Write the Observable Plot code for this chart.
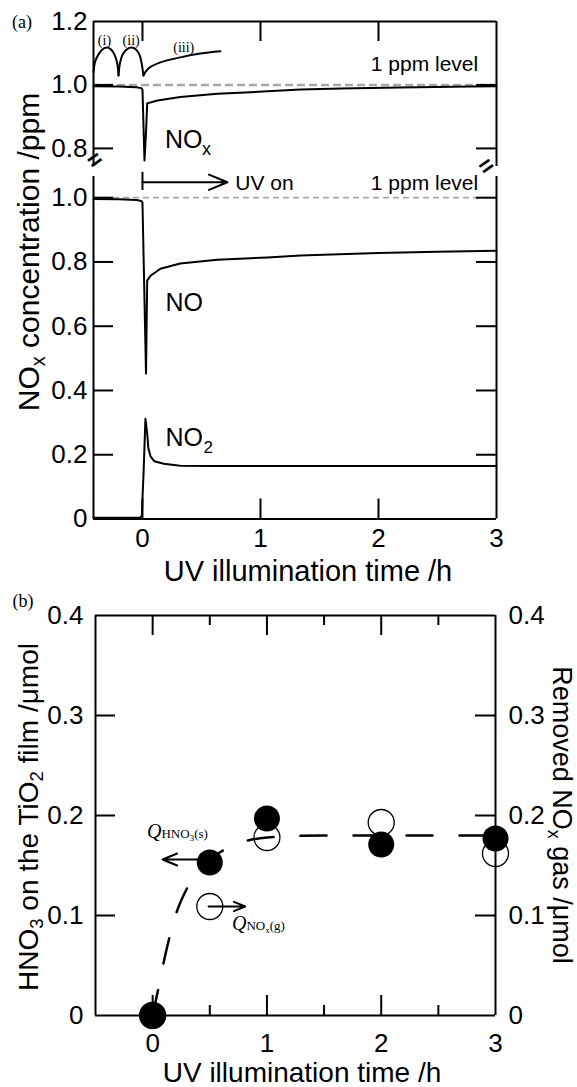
<!DOCTYPE html>
<html><head><meta charset="utf-8">
<script src="https://cdn.jsdelivr.net/npm/d3@7"></script>
<script src="https://cdn.jsdelivr.net/npm/@observablehq/plot@0.6"></script>
<style>
body{margin:0;background:#fff}
#fig{position:relative;width:577px;height:1087px;overflow:hidden;background:#fff;font-family:'Liberation Sans',Arial,sans-serif;color:#000}
.pl{position:absolute;left:0}
.t{position:absolute;white-space:nowrap;line-height:1}
.t sub{font-size:0.66em;vertical-align:-0.28em;line-height:0}
.serif{font-family:'Liberation Serif','Times New Roman',serif}
.q{position:absolute;white-space:nowrap;font-family:'Liberation Serif','Times New Roman',serif;font-size:20px;line-height:20px}
.q .s{font-size:13px;font-style:normal}
.q sub{font-size:9px;vertical-align:-3px;line-height:0}
</style></head><body>
<div id="fig">
  <div id="a1" class="pl" style="top:0"></div>
  <div id="a2" class="pl" style="top:170px"></div>
  <div id="b" class="pl" style="top:590px"></div>

  <div class="t serif" style="left:22px;top:22px;font-size:18px;transform:translate(-50%,-50%)">(a)</div>
  <div class="t serif" style="left:23px;top:601px;font-size:18px;transform:translate(-50%,-50%)">(b)</div>
  <div class="t" style="left:29px;top:252px;font-size:30px;transform:translate(-50%,-50%) rotate(-90deg)">NO<sub>x</sub> concentration /ppm</div>
  <div class="t" style="left:308px;top:571px;font-size:29px;transform:translate(-50%,-50%)">UV illumination time /h</div>
  <div class="t" style="left:29px;top:817px;font-size:28px;transform:translate(-50%,-50%) rotate(-90deg)">HNO<sub>3</sub> on the TiO<sub>2</sub> film /μmol</div>
  <div class="t" style="left:561px;top:815px;font-size:27px;transform:translate(-50%,-50%) rotate(90deg)">Removed NO<sub>x</sub> gas /μmol</div>
  <div class="t" style="left:302px;top:1073px;font-size:28px;transform:translate(-50%,-50%)">UV illumination time /h</div>
  <div class="q" style="left:147px;top:821px"><i>Q</i><span class="s">HNO<sub>3</sub>(s)</span></div>
  <div class="q" style="left:232px;top:913px"><i>Q</i><span class="s">NO<sub>x</sub>(g)</span></div>
</div>
<script>
// ---------- data: panel (a) ----------
const timeTicks = [0, 1, 2, 3];
const tNOx = [-0.415, -0.2, -0.05, -0.01, 0, 0.017, 0.03, 0.04, 0.127, 0.32, 0.635, 1.06, 1.34, 1.68, 2.18, 2.78, 3];
const NOx  = [0.996, 0.995, 0.993, 0.99, 0.985, 0.762, 0.85, 0.942, 0.951, 0.962, 0.972, 0.98, 0.986, 0.989, 0.992, 0.995, 0.996];
const tNO  = [-0.415, -0.2, -0.05, -0.01, 0, 0.03, 0.04, 0.068, 0.152, 0.32, 0.635, 1.06, 1.34, 2, 2.5, 3];
const NO   = [0.996, 0.995, 0.993, 0.99, 0.985, 0.453, 0.742, 0.757, 0.779, 0.795, 0.807, 0.814, 0.82, 0.828, 0.832, 0.835];
const tNO2 = [-0.415, -0.02, -0.005, 0, 0.01, 0.025, 0.04, 0.05, 0.068, 0.1, 0.18, 0.32, 0.6, 1, 2, 3];
const NO2  = [0.004, 0.004, 0.01, 0.064, 0.15, 0.312, 0.266, 0.22, 0.195, 0.18, 0.172, 0.166, 0.165, 0.165, 0.165, 0.165];
// schematic cycles (i), (ii), (iii)
const tCycle1 = [-0.415, -0.4, -0.37, -0.34, -0.305, -0.27, -0.24, -0.215, -0.203];
const vCycle1 = [1.04, 1.075, 1.098, 1.112, 1.118, 1.113, 1.098, 1.07, 1.03];
const tCycle2 = [-0.203, -0.19, -0.165, -0.13, -0.093, -0.055, -0.025, -0.008, 0.008];
const vCycle2 = [1.03, 1.07, 1.098, 1.113, 1.118, 1.112, 1.095, 1.07, 1.03];
const tCycle3 = [0.008, 0.05, 0.152, 0.322, 0.491, 0.66];
const vCycle3 = [1.03, 1.052, 1.071, 1.087, 1.099, 1.106];
const ticksUpper = [0.8, 1.0, 1.2];
const ticksLower = [0, 0.2, 0.4, 0.6, 0.8, 1.0];
const ppmLevel = 1.0;

// ---------- data: panel (b) ----------
const tB = [0, 0.5, 1, 2, 3];
const HNO3 = [0, 0.153, 0.197, 0.171, 0.177];
const removedNOx = [0, 0.109, 0.178, 0.193, 0.162];
const tFit = [0, 0.05, 0.1, 0.2, 0.3, 0.4, 0.5, 0.6, 0.75, 1, 1.5, 2, 2.5, 3];
const fitB = [0, 0.027, 0.055, 0.1, 0.127, 0.145, 0.156, 0.164, 0.172, 0.178, 0.18, 0.18, 0.18, 0.18];
const ticksB = [0, 0.1, 0.2, 0.3, 0.4];
const minorB = [0.5, 1.5, 2.5];

// ---------- helpers ----------
const rows = (t, v) => t.map((x, i) => ({x, y: v[i]}));
const FONT = "'Liberation Sans', Arial, sans-serif";
const SERIF = "'Liberation Serif', 'Times New Roman', serif";
const W = 577;
const xDomA = [-0.415, 3];
const mlA = 93, mrA = 81, innerWA = W - mlA - mrA;
const fmt = d => d === 0 ? "0" : d.toFixed(1);
const black = {stroke: "#000", strokeWidth: 2};
const style = {background: "none", overflow: "visible", fontFamily: FONT, color: "#000"};

// ---------- panel (a) upper ----------
const hA1 = 170, mtA1 = 21, mbA1 = 4, innerHA1 = hA1 - mtA1 - mbA1;
const a1 = Plot.plot({
  width: W, height: hA1, marginTop: mtA1, marginBottom: mbA1, marginLeft: mlA, marginRight: mrA,
  style,
  x: {domain: xDomA, axis: null, label: null},
  y: {domain: [0.743, 1.2], label: null},
  marks: [
    Plot.ruleY([ppmLevel], {stroke: "#a8a8a8", strokeWidth: 2.5, strokeDasharray: "8,4"}),
    Plot.ruleX(xDomA, black),
    Plot.ruleY([1.2], black),
    Plot.tickY([0.8, 1.0], {...black, insetRight: innerWA - 20}),
    Plot.tickY([0.8, 1.0], {...black, insetLeft: innerWA - 20}),
    Plot.tickX([0, 1, 2], {...black, insetBottom: innerHA1 - 20}),
    Plot.axisY(ticksUpper, {tickSize: 0, tickPadding: 6, fontSize: 26, tickFormat: fmt, label: null}),
    Plot.line(rows(tNOx, NOx), {x: "x", y: "y", ...black, strokeLinejoin: "round"}),
    Plot.line(rows(tCycle1, vCycle1), {x: "x", y: "y", ...black, curve: "catmull-rom"}),
    Plot.line(rows(tCycle2, vCycle2), {x: "x", y: "y", ...black, curve: "catmull-rom"}),
    Plot.line(rows(tCycle3, vCycle3), {x: "x", y: "y", ...black, curve: "catmull-rom"}),
    Plot.text(["(i)", "(ii)", "(iii)"], {x: [-0.322, -0.096, 0.35], y: [1.14, 1.14, 1.119], text: d => d, fontSize: 14, fontFamily: SERIF}),
    Plot.text(["1 ppm level"], {x: [2.845], y: [1.065], textAnchor: "end", fontSize: 21}),
    Plot.text(["NO"], {x: [0.19], y: [0.825], textAnchor: "start", fontSize: 25}),
    Plot.text(["x"], {x: [0.19], y: [0.825], textAnchor: "start", fontSize: 18, dx: 37, dy: 9}),
    Plot.text(["="], {frameAnchor: "bottom-left", dy: 4, rotate: -35, fontSize: 24, fontWeight: "bold"}),
    Plot.text(["="], {frameAnchor: "bottom-right", dy: 2, rotate: -35, fontSize: 24, fontWeight: "bold"})
  ]
});
document.getElementById("a1").append(a1);

// ---------- panel (a) lower ----------
const hA2 = 400, mtA2 = 6, mbA2 = 51.5, innerHA2 = hA2 - mtA2 - mbA2;
const a2 = Plot.plot({
  width: W, height: hA2, marginTop: mtA2, marginBottom: mbA2, marginLeft: mlA, marginRight: mrA,
  style,
  x: {domain: xDomA, label: null},
  y: {domain: [0, 1.066], label: null},
  marks: [
    Plot.ruleY([ppmLevel], {stroke: "#a8a8a8", strokeWidth: 1.8, strokeDasharray: "6,4"}),
    Plot.ruleX(xDomA, black),
    Plot.ruleY([0], black),
    Plot.tickY([0.2, 0.4, 0.6, 0.8, 1.0], {...black, insetRight: innerWA - 20}),
    Plot.tickY([0.2, 0.4, 0.6, 0.8, 1.0], {...black, insetLeft: innerWA - 20}),
    Plot.tickX([0, 1, 2], {...black, insetTop: innerHA2 - 20}),
    Plot.axisY(ticksLower, {tickSize: 0, tickPadding: 6, fontSize: 26, tickFormat: fmt, label: null}),
    Plot.axisX(timeTicks, {tickSize: 0, tickPadding: 10, fontSize: 26, tickFormat: d => String(d), label: null}),
    Plot.line(rows(tNO, NO), {x: "x", y: "y", ...black, strokeLinejoin: "round"}),
    Plot.line(rows(tNO2, NO2), {x: "x", y: "y", ...black, strokeLinejoin: "round"}),
    Plot.ruleX([0], {y1: 1.0224, y2: 1.079, ...black}),
    Plot.arrow([0], {x1: 0, x2: 0.72, y1: 1.048, y2: 1.048, ...black, headLength: 15, headAngle: 45}),
    Plot.text(["UV on"], {x: [0.787], y: [1.044], textAnchor: "start", fontSize: 21}),
    Plot.text(["1 ppm level"], {x: [2.845], y: [1.046], textAnchor: "end", fontSize: 21}),
    Plot.text(["NO"], {x: [0.195], y: [0.673], textAnchor: "start", fontSize: 25}),
    Plot.text(["NO"], {x: [0.195], y: [0.2535], textAnchor: "start", fontSize: 25}),
    Plot.text(["2"], {x: [0.195], y: [0.2535], textAnchor: "start", fontSize: 17, dx: 38, dy: 10})
  ]
});
document.getElementById("a2").append(a2);

// ---------- panel (b) ----------
const hB = 497, mtB = 25, mbB = 72, mlB = 95, mrB = 82;
const innerWB = W - mlB - mrB, innerHB = hB - mtB - mbB;
const b = Plot.plot({
  width: W, height: hB, marginTop: mtB, marginBottom: mbB, marginLeft: mlB, marginRight: mrB,
  style,
  x: {domain: [-0.5, 3], label: null},
  y: {domain: [0, 0.4], label: null},
  marks: [
    Plot.ruleX([-0.5, 3], black),
    Plot.ruleY([0, 0.4], black),
    Plot.tickY([0.1, 0.2, 0.3], {...black, insetRight: innerWB - 20}),
    Plot.tickY([0.1, 0.2, 0.3], {...black, insetLeft: innerWB - 20}),
    Plot.tickX([0, 1, 2], {...black, insetBottom: innerHB - 20}),
    Plot.tickX([0, 1, 2], {...black, insetTop: innerHB - 20}),
    Plot.tickX(minorB, {...black, insetBottom: innerHB - 10}),
    Plot.tickX(minorB, {...black, insetTop: innerHB - 10}),
    Plot.axisY(ticksB, {anchor: "left", tickSize: 0, tickPadding: 12, fontSize: 26, tickFormat: fmt, label: null}),
    Plot.axisY(ticksB, {anchor: "right", tickSize: 0, tickPadding: 13, fontSize: 26, tickFormat: fmt, label: null}),
    Plot.axisX(timeTicks, {tickSize: 0, tickPadding: 18, fontSize: 26, tickFormat: d => String(d), label: null}),
    Plot.line(rows(tFit, fitB), {x: "x", y: "y", stroke: "#000", strokeWidth: 2.5, strokeDasharray: "26,27", curve: "monotone-x"}),
    Plot.dot(rows(tB, removedNOx), {x: "x", y: "y", r: 13, fill: "none", stroke: "#000", strokeWidth: 1.3}),
    Plot.dot(rows(tB, HNO3), {x: "x", y: "y", r: 13, fill: "#000", stroke: "none"}),
    Plot.arrow([0], {x1: 0.5, y1: 0.156, x2: 0.087, y2: 0.156, ...black, headLength: 13, headAngle: 45}),
    Plot.arrow([0], {x1: 0.49, y1: 0.109, x2: 0.81, y2: 0.109, ...black, headLength: 13, headAngle: 45})
  ]
});
document.getElementById("b").append(b);
</script>
</body></html>
